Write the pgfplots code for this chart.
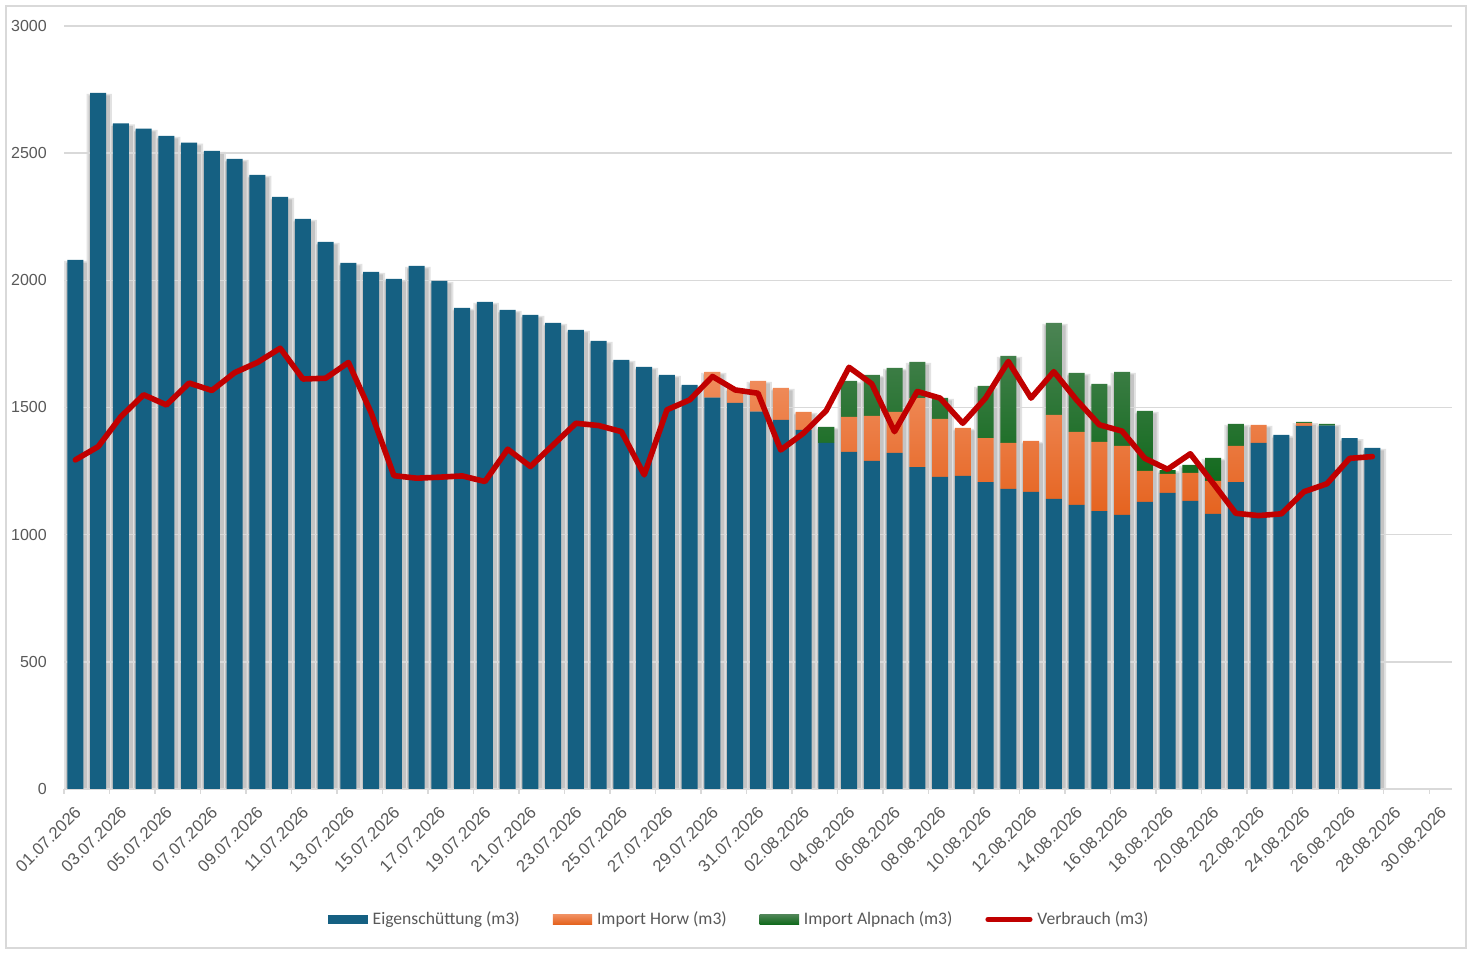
\documentclass[border=0pt]{standalone}
\usepackage{fontspec}
\setmainfont{Liberation Sans}
\newfontfamily\legfont{Carlito}
\usepackage{pgfplots}
\usepackage{pgfplotstable}
\pgfplotsset{compat=1.18}
\definecolor{blueC}{HTML}{156082}
\definecolor{orangeT}{HTML}{F08E5E}
\definecolor{orangeB}{HTML}{E5631F}
\definecolor{orangeC}{HTML}{E97132}
\definecolor{greenT}{HTML}{4C8454}
\definecolor{greenB}{HTML}{126A1D}
\definecolor{greenC}{HTML}{196B24}
\definecolor{redC}{HTML}{C00000}
\definecolor{textC}{HTML}{595959}
\definecolor{gridC}{HTML}{D9D9D9}
\definecolor{shadowC}{HTML}{C4C4C4}
\definecolor{shadowL}{HTML}{E2E2E2}
\pgfplotstableread{
x b o g v
0 2080 0 0 1294
1 2737 0 0 1346
2 2617 0 0 1464
3 2596 0 0 1550
4 2568 0 0 1510
5 2541 0 0 1596
6 2509 0 0 1567
7 2478 0 0 1637
8 2415 0 0 1677
9 2328 0 0 1733
10 2242 0 0 1612
11 2151 0 0 1615
12 2069 0 0 1677
13 2033 0 0 1479
14 2006 0 0 1232
15 2057 0 0 1222
16 1998 0 0 1226
17 1892 0 0 1231
18 1915 0 0 1209
19 1884 0 0 1336
20 1864 0 0 1268
21 1833 0 0 1353
22 1805 0 0 1438
23 1762 0 0 1429
24 1687 0 0 1405
25 1660 0 0 1235
26 1628 0 0 1491
27 1589 0 0 1530
28 1539 101 0 1622
29 1518 58 0 1569
30 1484 121 0 1556
31 1451 126 0 1333
32 1412 71 0 1399
33 1361 0 63 1488
34 1325 138 142 1658
35 1290 177 161 1593
36 1322 161 173 1405
37 1266 271 142 1563
38 1227 228 83 1537
39 1231 189 0 1438
40 1207 173 205 1537
41 1180 181 342 1681
42 1168 201 0 1537
43 1141 330 362 1641
44 1117 287 232 1530
45 1093 272 228 1432
46 1078 271 291 1407
47 1129 122 236 1300
48 1164 75 15 1257
49 1133 110 31 1318
50 1082 129 91 1202
51 1207 142 87 1084
52 1361 71 0 1075
53 1392 0 0 1082
54 1428 11 4 1169
55 1429 0 7 1200
56 1380 0 0 1300
57 1341 0 0 1307
}\data
\pgfplotsset{
  base/.style={
    scale only axis, width=1041pt, height=572.25pt,
    at={(48pt,124.5pt)}, anchor=south west,
    xmin=-0.5, xmax=60.5, ymin=0, ymax=3000,
  }
}
\begin{document}
\begin{tikzpicture}
\useasboundingbox (0,0) rectangle (1103.25pt,716.25pt);
\fill[white] (0,0) rectangle (1103.25pt,716.25pt);
\draw[gridC, line width=1.1pt] (4.5pt,5.25pt) rectangle (1099.5pt,711.75pt);
% shadows
\begin{axis}[base, hide axis, ybar]
\addplot[fill=shadowL, draw=none, bar width=19pt, bar shift=0.9pt]
  table[x=x, y expr=\thisrow{b}+\thisrow{o}+\thisrow{g}-4]{\data};
\addplot[fill=shadowC, draw=none, bar width=16pt, bar shift=0.9pt]
  table[x=x, y expr=\thisrow{b}+\thisrow{o}+\thisrow{g}-10]{\data};
\end{axis}
% stacked bars
\begin{axis}[base, ybar stacked, bar width=12pt,
  axis x line*=bottom, axis y line*=left,
  y axis line style={draw=none},
  x axis line style={draw=gridC, line width=1.1pt, -},
  ymajorgrids, grid style={draw=gridC, line width=1.1pt},
  ytick={0,500,...,3000},
  xtick={0,2,...,60},
  xticklabels={01.07.2026,03.07.2026,05.07.2026,07.07.2026,09.07.2026,11.07.2026,13.07.2026,15.07.2026,17.07.2026,19.07.2026,21.07.2026,23.07.2026,25.07.2026,27.07.2026,29.07.2026,31.07.2026,02.08.2026,04.08.2026,06.08.2026,08.08.2026,10.08.2026,12.08.2026,14.08.2026,16.08.2026,18.08.2026,20.08.2026,22.08.2026,24.08.2026,26.08.2026,28.08.2026,30.08.2026},
  major tick length=0pt,
  extra x ticks={-0.5,1.5,...,59.5},
  extra x tick labels={},
  extra x tick style={major tick length=3.75pt, tick align=outside, tick style={draw=gridC, line width=1.1pt}, xmajorgrids=false},
  tick label style={font=\fontsize{12.6}{14}\selectfont, text=textC},
  /pgf/number format/assume math mode=true,
  /pgf/number format/1000 sep={},
  yticklabel style={anchor=east, inner sep=0pt, xshift=-12.75pt, font=\fontsize{12}{14}\selectfont},
  xticklabel style={inner sep=0pt, xshift=-1.2pt, yshift=-12pt, rotate=45, anchor=north east},
]
\addplot[fill=blueC, draw=none] table[x=x, y=b]{\data};
\addplot[draw=none, top color=orangeT, bottom color=orangeB] table[x=x, y=o]{\data};
\addplot[draw=none, top color=greenT, bottom color=greenB] table[x=x, y=g]{\data};
\end{axis}
% line and legend
\begin{axis}[base, hide axis,
  legend columns=4,
  legend style={at={(0.4865,-0.171)}, anchor=center, draw=none, fill=none,
    font=\legfont\fontsize{13.2}{15}\selectfont, text=textC,
    /tikz/every odd column/.append style={column sep=2.5pt},
    /tikz/every even column/.append style={column sep=23.5pt},
    nodes={inner sep=1.2pt}},
  legend cell align=left,
]
\addlegendimage{legend image code/.code={\fill[blueC, draw=none] (0pt,-3.4pt) rectangle (29.5pt,3.4pt);}}
\addlegendentry{Eigenschüttung (m3)}
\addlegendimage{legend image code/.code={\shade[draw=none, top color=orangeT, bottom color=orangeB] (0pt,-3.4pt) rectangle (29.5pt,3.4pt);}}
\addlegendentry{Import Horw (m3)}
\addlegendimage{legend image code/.code={\shade[draw=none, top color=greenT, bottom color=greenB] (0pt,-3.4pt) rectangle (29.5pt,3.4pt);}}
\addlegendentry{Import Alpnach (m3)}
\addplot[redC, line width=4.2pt, line join=round, line cap=round, sharp plot, mark=none,
  legend image code/.code={\draw[redC, line width=3.75pt, line cap=round] (1.9pt,0pt) -- (33.5pt,0pt);}]
  table[x=x, y=v]{\data};
\addlegendentry{Verbrauch (m3)}
\end{axis}
\end{tikzpicture}
\end{document}
